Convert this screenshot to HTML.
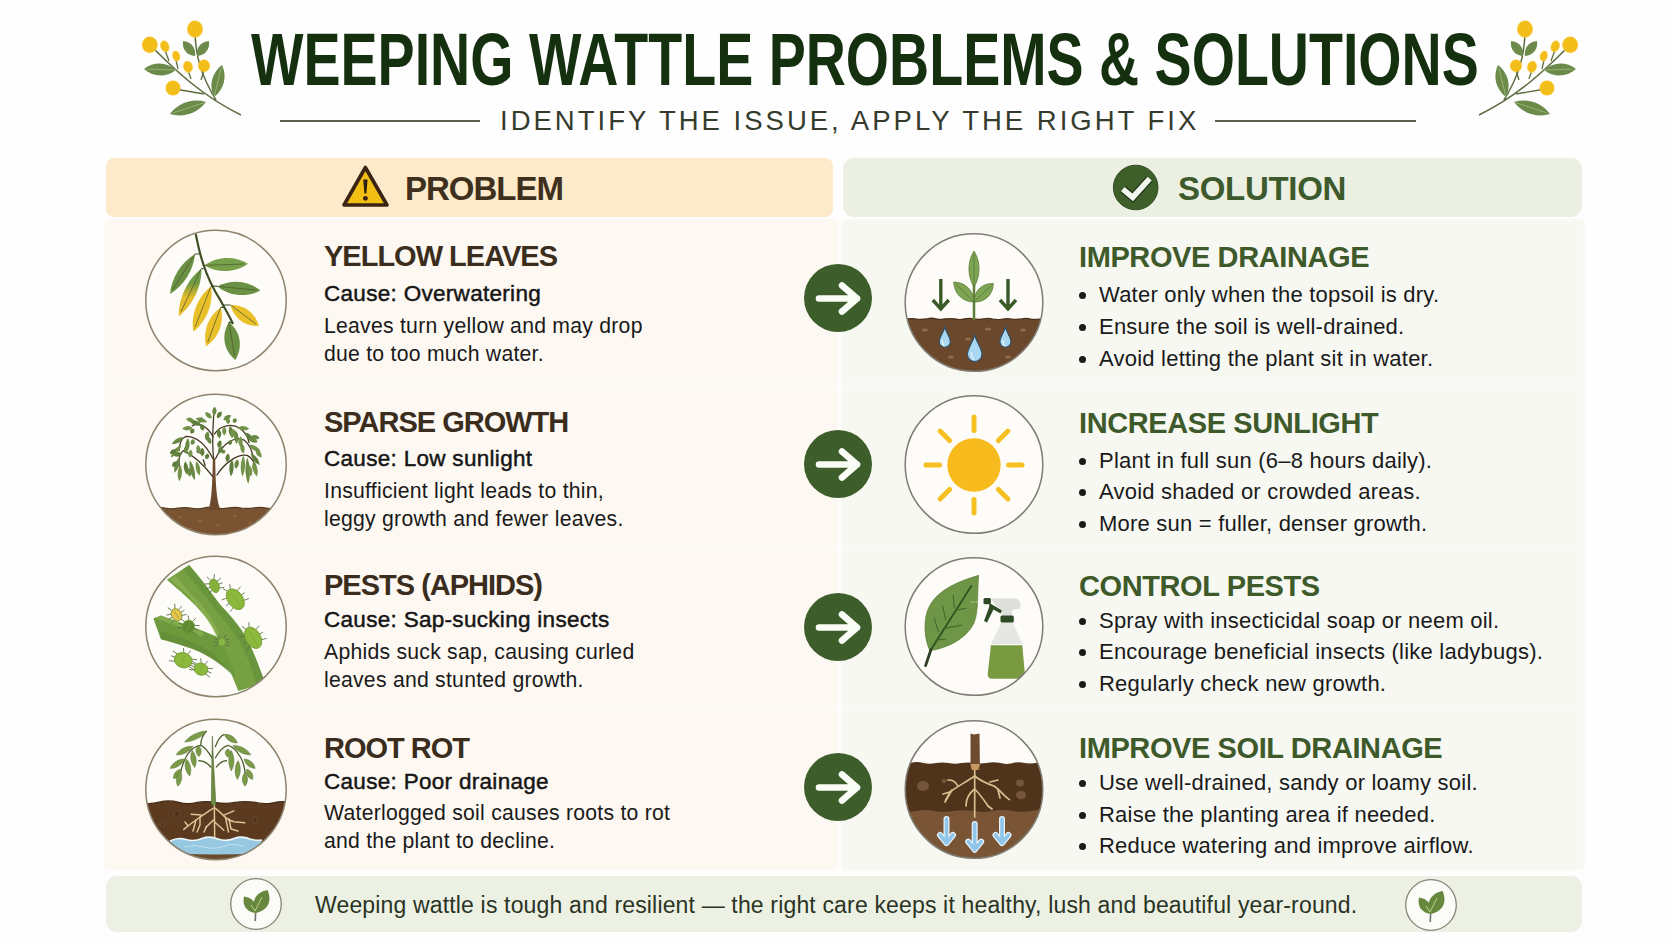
<!DOCTYPE html>
<html><head><meta charset="utf-8"><style>
html,body{margin:0;padding:0;}
body{width:1672px;height:941px;position:relative;overflow:hidden;background:#fefefe;font-family:"Liberation Sans",sans-serif;}
.a{position:absolute;white-space:nowrap;line-height:1;}
.bx{position:absolute;overflow:visible;}
.title{left:251px;top:23px;font-size:74px;font-weight:bold;color:#15300f;transform-origin:0 0;transform:scaleX(0.751);}
.sub{left:500px;top:106.5px;font-size:27.5px;color:#363c2d;letter-spacing:3.0px;}
.hl{position:absolute;height:2px;background:#5b5f50;top:120px;}
.band{position:absolute;top:158px;height:59px;border-radius:11px;}
.hdr{font-size:33px;font-weight:bold;top:172px;}
.row{position:absolute;}
.pr{left:106px;width:730px;background:#fdf8f1;box-shadow:0 0 3px 1px #fdf8f1;}
.sr{left:843px;width:740px;background:#f7f8f2;box-shadow:0 0 3px 1px #f7f8f2;}
.pt{font-size:29px;font-weight:bold;color:#3a2d1d;letter-spacing:-1px;}
.st{font-size:29px;font-weight:bold;color:#3e5a2b;letter-spacing:-0.4px;}
.cause{font-size:22.5px;color:#151515;letter-spacing:0.3px;-webkit-text-stroke:0.45px #151515;}
.desc{font-size:21.2px;color:#1a1a1a;letter-spacing:0.25px;}
.bul{font-size:22px;color:#1a1a1a;letter-spacing:0.22px;}
.dot{position:absolute;width:7.4px;height:7.4px;border-radius:50%;background:#1a1a1a;}
</style></head><body>
<svg class="bx" style="left:130px;top:10px" width="120" height="120" viewBox="0 0 120 120"><path d="M22,37 C45,60 72,86 111,105" stroke="#5d6d40" stroke-width="1.6" fill="none"/><path d="M65,24 C66,45 70,64 86,90" stroke="#5d6d40" stroke-width="1.5" fill="none"/><path d="M35,40 L39,51" stroke="#5d6d40" stroke-width="1.3"/><path d="M46,50 L48,59" stroke="#5d6d40" stroke-width="1.3"/><path d="M58,60 L61,69" stroke="#5d6d40" stroke-width="1.3"/><path d="M74,60 L71,70" stroke="#5d6d40" stroke-width="1.3"/><path d="M45,79 L74,84" stroke="#5d6d40" stroke-width="1.3"/><path d="M46,60 C36.7,51.7 23.9,51.3 14,59 C23.3,67.3 36.1,67.7 46,60Z" fill="#6c8b4b"/><path d="M46,60 L17.2,59.1" stroke="#a9c27f" stroke-width="0.7" fill="none"/><path d="M65,46 C66.1,37.7 61.3,31.7 53,31 C51.9,39.3 56.7,45.3 65,46Z" fill="#6c8b4b"/><path d="M67,46 C75.3,45.3 80.1,39.3 79,31 C70.7,31.7 65.9,37.7 67,46Z" fill="#6c8b4b"/><path d="M84,87 C94.2,79.3 97.4,66.5 92,55 C81.8,62.7 78.6,75.5 84,87Z" fill="#6c8b4b"/><path d="M84,87 L91.2,58.2" stroke="#a9c27f" stroke-width="0.7" fill="none"/><path d="M76,92 C62.7,88 48.3,92.8 40,104 C53.3,108 67.7,103.2 76,92Z" fill="#6c8b4b"/><path d="M76,92 L43.6,102.8" stroke="#a9c27f" stroke-width="0.7" fill="none"/><ellipse cx="65" cy="19.1" rx="7.7" ry="8.3" fill="#f4be1a" stroke="#f7cc3a" stroke-width="0.8" stroke-dasharray="1 0.8" transform="rotate(0 65 19.1)"/><ellipse cx="19.8" cy="34.8" rx="7.7" ry="8" fill="#f4be1a" stroke="#f7cc3a" stroke-width="0.8" stroke-dasharray="1 0.8" transform="rotate(0 19.8 34.8)"/><ellipse cx="34.8" cy="36.3" rx="4.1" ry="5.7" fill="#f4be1a" stroke="#f7cc3a" stroke-width="0.8" stroke-dasharray="1 0.8" transform="rotate(-20 34.8 36.3)"/><ellipse cx="46.2" cy="46" rx="3.6" ry="5.1" fill="#f4be1a" stroke="#f7cc3a" stroke-width="0.8" stroke-dasharray="1 0.8" transform="rotate(-15 46.2 46)"/><ellipse cx="58" cy="56.8" rx="4.5" ry="5.7" fill="#f4be1a" stroke="#f7cc3a" stroke-width="0.8" stroke-dasharray="1 0.8" transform="rotate(-15 58 56.8)"/><ellipse cx="74" cy="55.8" rx="5.8" ry="6.1" fill="#f4be1a" stroke="#f7cc3a" stroke-width="0.8" stroke-dasharray="1 0.8" transform="rotate(0 74 55.8)"/><ellipse cx="43" cy="78" rx="7.3" ry="7.3" fill="#f4be1a" stroke="#f7cc3a" stroke-width="0.8" stroke-dasharray="1 0.8" transform="rotate(0 43 78)"/></svg>
<svg class="bx" style="left:1470px;top:10px" width="120" height="120" viewBox="0 0 120 120"><g transform="translate(120,0) scale(-1,1)"><path d="M22,37 C45,60 72,86 111,105" stroke="#5d6d40" stroke-width="1.6" fill="none"/><path d="M65,24 C66,45 70,64 86,90" stroke="#5d6d40" stroke-width="1.5" fill="none"/><path d="M35,40 L39,51" stroke="#5d6d40" stroke-width="1.3"/><path d="M46,50 L48,59" stroke="#5d6d40" stroke-width="1.3"/><path d="M58,60 L61,69" stroke="#5d6d40" stroke-width="1.3"/><path d="M74,60 L71,70" stroke="#5d6d40" stroke-width="1.3"/><path d="M45,79 L74,84" stroke="#5d6d40" stroke-width="1.3"/><path d="M46,60 C36.7,51.7 23.9,51.3 14,59 C23.3,67.3 36.1,67.7 46,60Z" fill="#6c8b4b"/><path d="M46,60 L17.2,59.1" stroke="#a9c27f" stroke-width="0.7" fill="none"/><path d="M65,46 C66.1,37.7 61.3,31.7 53,31 C51.9,39.3 56.7,45.3 65,46Z" fill="#6c8b4b"/><path d="M67,46 C75.3,45.3 80.1,39.3 79,31 C70.7,31.7 65.9,37.7 67,46Z" fill="#6c8b4b"/><path d="M84,87 C94.2,79.3 97.4,66.5 92,55 C81.8,62.7 78.6,75.5 84,87Z" fill="#6c8b4b"/><path d="M84,87 L91.2,58.2" stroke="#a9c27f" stroke-width="0.7" fill="none"/><path d="M76,92 C62.7,88 48.3,92.8 40,104 C53.3,108 67.7,103.2 76,92Z" fill="#6c8b4b"/><path d="M76,92 L43.6,102.8" stroke="#a9c27f" stroke-width="0.7" fill="none"/><ellipse cx="65" cy="19.1" rx="7.7" ry="8.3" fill="#f4be1a" stroke="#f7cc3a" stroke-width="0.8" stroke-dasharray="1 0.8" transform="rotate(0 65 19.1)"/><ellipse cx="19.8" cy="34.8" rx="7.7" ry="8" fill="#f4be1a" stroke="#f7cc3a" stroke-width="0.8" stroke-dasharray="1 0.8" transform="rotate(0 19.8 34.8)"/><ellipse cx="34.8" cy="36.3" rx="4.1" ry="5.7" fill="#f4be1a" stroke="#f7cc3a" stroke-width="0.8" stroke-dasharray="1 0.8" transform="rotate(-20 34.8 36.3)"/><ellipse cx="46.2" cy="46" rx="3.6" ry="5.1" fill="#f4be1a" stroke="#f7cc3a" stroke-width="0.8" stroke-dasharray="1 0.8" transform="rotate(-15 46.2 46)"/><ellipse cx="58" cy="56.8" rx="4.5" ry="5.7" fill="#f4be1a" stroke="#f7cc3a" stroke-width="0.8" stroke-dasharray="1 0.8" transform="rotate(-15 58 56.8)"/><ellipse cx="74" cy="55.8" rx="5.8" ry="6.1" fill="#f4be1a" stroke="#f7cc3a" stroke-width="0.8" stroke-dasharray="1 0.8" transform="rotate(0 74 55.8)"/><ellipse cx="43" cy="78" rx="7.3" ry="7.3" fill="#f4be1a" stroke="#f7cc3a" stroke-width="0.8" stroke-dasharray="1 0.8" transform="rotate(0 43 78)"/></g></svg>
<div class="a title">WEEPING WATTLE PROBLEMS &amp; SOLUTIONS</div>
<div class="hl" style="left:280px;width:200px"></div><div class="hl" style="left:1215px;width:201px"></div>
<div class="a sub">IDENTIFY THE ISSUE, APPLY THE RIGHT FIX</div>
<div class="band" style="left:106px;width:727px;background:#fceaca;border-radius:8px"></div>
<div class="band" style="left:843px;width:739px;background:#ecf0e3"></div>
<svg class="bx" style="left:330px;top:160px" width="70" height="55" viewBox="0 0 70 55"><path d="M35.4,7.5 L57,45 L14,45 Z" fill="#f2c014" stroke="#3b2413" stroke-width="3.6" stroke-linejoin="round"/><path d="M33.2,19.5 L37.6,19.5 L36.4,33.5 L34.4,33.5Z" fill="#2d2010"/><circle cx="35.4" cy="38.3" r="2.4" fill="#3b1f10"/></svg>
<div class="a hdr" style="left:405px;color:#3f301e;letter-spacing:-1px">PROBLEM</div>
<svg class="bx" style="left:1100px;top:160px" width="70" height="55" viewBox="0 0 70 55"><circle cx="35.7" cy="27.5" r="22.3" fill="#3f5f2a" stroke="#2f4a20" stroke-width="1"/><path d="M22.8,29.2 L32.7,37.4 L49.7,18.7" stroke="#1f3317" stroke-width="8" fill="none"/><path d="M22.8,29.2 L32.7,37.4 L49.7,18.7" stroke="#f2f8f0" stroke-width="5.6" fill="none"/></svg>
<div class="a hdr" style="left:1178px;color:#3d5a2c;letter-spacing:-0.3px">SOLUTION</div>
<div class="row" style="left:104px;top:219px;width:734px;height:651px;background:#fdfaf6;border-radius:6px"></div>
<div class="row" style="left:842px;top:219px;width:743px;height:651px;background:#f9faf6;border-radius:6px"></div>
<div class="row pr" style="top:221px;height:162px"></div><div class="row sr" style="top:221px;height:162px"></div>
<div class="row pr" style="top:390px;height:155px"></div><div class="row sr" style="top:390px;height:155px"></div>
<div class="row pr" style="top:551px;height:155px"></div><div class="row sr" style="top:551px;height:155px"></div>
<div class="row pr" style="top:712px;height:156px"></div><div class="row sr" style="top:712px;height:156px"></div>
<div class="band" style="left:106px;width:1476px;top:876px;height:56px;border-radius:10px;background:#edf1e4"></div>
<svg class="bx" style="left:140px;top:225px" width="152" height="152" viewBox="0 0 152 152"><defs><clipPath id="cpp0"><circle cx="76" cy="75.5" r="70.2"/></clipPath></defs><circle cx="76" cy="75.5" r="70.2" fill="#fdfcf8"/><g clip-path="url(#cpp0)"><defs><linearGradient id="gy" x1="0" y1="0" x2="0" y2="1"><stop offset="0.3" stop-color="#6f9a45"/><stop offset="0.6" stop-color="#e3bb2c"/></linearGradient></defs><path d="M55.7,8.9 C58,20 60,30 63,38 C66,48 72,62 80.8,75.9 C85,84 89,90 93,99" stroke="#3e4f25" stroke-width="2.2" fill="none"/><path d="M59.5,29 L55,29" stroke="#3e4f25" stroke-width="1.2"/><path d="M55,29 C41.3,37.1 31.3,53.1 30,69 C43.7,60.9 53.7,44.9 55,29Z" fill="#6a9143"/><path d="M55,29 L32.5,65" stroke="#4a5528" stroke-width="0.7" fill="none"/><path d="M62.5,40 L64.6,40.4" stroke="#3e4f25" stroke-width="1.2"/><path d="M64.6,40.4 C77.9,48.6 95.3,47.9 108,38.8 C94.7,30.6 77.3,31.3 64.6,40.4Z" fill="#77a04b"/><path d="M64.6,40.4 L103.7,39" stroke="#4a5528" stroke-width="0.7" fill="none"/><path d="M63.5,43.6 L61.4,43.6" stroke="#3e4f25" stroke-width="1.2"/><path d="M61.4,43.6 C47.4,54.5 38.3,73.6 38.8,91.3 C52.8,80.4 61.9,61.3 61.4,43.6Z" fill="url(#gy)"/><path d="M61.4,43.6 L41.1,86.5" stroke="#4a5528" stroke-width="0.7" fill="none"/><path d="M73,61 L77.5,61.4" stroke="#3e4f25" stroke-width="1.2"/><path d="M77.5,61.4 C89.6,71.2 106.7,72.8 120.4,65.4 C108.3,55.6 91.2,54 77.5,61.4Z" fill="#6a9143"/><path d="M77.5,61.4 L116.1,65" stroke="#4a5528" stroke-width="0.7" fill="none"/><path d="M73,61.4 L71,61.4" stroke="#3e4f25" stroke-width="1.2"/><path d="M71,61.4 C57.6,71.8 50.5,89.9 53.3,106.6 C66.7,96.2 73.8,78.1 71,61.4Z" fill="#e9bf2a"/><path d="M71,61.4 L55.1,102.1" stroke="#4a5528" stroke-width="0.7" fill="none"/><path d="M83,80 L90.5,80" stroke="#3e4f25" stroke-width="1.2"/><path d="M90.5,80 C93.8,93.3 105.1,101.7 118.7,101 C115.4,87.7 104.1,79.3 90.5,80Z" fill="#e9bf2a"/><path d="M90.5,80 L115.9,98.9" stroke="#4a5528" stroke-width="0.7" fill="none"/><path d="M84,82.4 L80.8,82.4" stroke="#3e4f25" stroke-width="1.2"/><path d="M80.8,82.4 C68.3,91 62.5,106.5 66.2,121.2 C78.7,112.6 84.5,97.1 80.8,82.4Z" fill="#e9bf2a"/><path d="M80.8,82.4 L67.7,117.3" stroke="#4a5528" stroke-width="0.7" fill="none"/><path d="M92,98 L88.9,96.9" stroke="#3e4f25" stroke-width="1.2"/><path d="M88.9,96.9 C81,110 83.5,125.2 95.3,134.9 C103.2,121.8 100.7,106.6 88.9,96.9Z" fill="#6a9143"/><path d="M88.9,96.9 L94.7,131.1" stroke="#4a5528" stroke-width="0.7" fill="none"/></g><circle cx="76" cy="75.5" r="70.2" fill="none" stroke="#8d836f" stroke-width="1.5"/></svg>
<svg class="bx" style="left:898px;top:227px" width="152" height="152" viewBox="0 0 152 152"><defs><clipPath id="cps0"><circle cx="76" cy="75.5" r="68.8"/></clipPath></defs><circle cx="76" cy="75.5" r="68.8" fill="#fdfcf8"/><g clip-path="url(#cps0)"><path d="M0,92 Q4.8,93.1 9.5,92 Q14.2,91.2 19,92.1 Q23.8,92.7 28.5,92 Q33.2,90.6 38,91.8 Q42.8,93.1 47.5,92 Q52.2,91.3 57,92 Q61.8,93.2 66.5,92 Q71.2,90.8 76,91.9 Q80.8,92.9 85.5,91.9 Q90.2,90.9 95,92.2 Q99.8,93.1 104.5,92.1 Q109.2,91 114,92.1 Q118.8,92.8 123.5,91.9 Q128.2,90.8 133,92.1 Q137.8,93 142.5,91.9 Q147.2,91.1 152,91.9 L152,152 L0,152Z" fill="#6b482b"/><path d="M0,92 Q4.8,93.1 9.5,92 Q14.2,91.2 19,92.1 Q23.8,92.7 28.5,92 Q33.2,90.6 38,91.8 Q42.8,93.1 47.5,92 Q52.2,91.3 57,92 Q61.8,93.2 66.5,92 Q71.2,90.8 76,91.9 Q80.8,92.9 85.5,91.9 Q90.2,90.9 95,92.2 Q99.8,93.1 104.5,92.1 Q109.2,91 114,92.1 Q118.8,92.8 123.5,91.9 Q128.2,90.8 133,92.1 Q137.8,93 142.5,91.9 Q147.2,91.1 152,91.9" stroke="#4a321d" stroke-width="1.3" fill="none"/><ellipse cx="27" cy="103" rx="3" ry="1.6" fill="#8e6a4a"/><ellipse cx="53" cy="130" rx="3" ry="1.6" fill="#8e6a4a"/><ellipse cx="90" cy="102" rx="3" ry="1.6" fill="#8e6a4a"/><ellipse cx="125" cy="103" rx="3" ry="1.6" fill="#8e6a4a"/><ellipse cx="110" cy="130" rx="3" ry="1.6" fill="#8e6a4a"/><ellipse cx="70" cy="112" rx="3" ry="1.6" fill="#8e6a4a"/><path d="M76,93 L76,58" stroke="#5e7f3a" stroke-width="2.5"/><path d="M76,60 C82.7,49.2 82.7,34.8 76,24 C69.3,34.8 69.3,49.2 76,60Z" fill="#7ea553" stroke="#587a36" stroke-width="0.8"/><path d="M76,60 L76,27.6" stroke="#4e6e30" stroke-width="0.7" fill="none"/><path d="M76,75 C75.5,63.3 67.4,55.3 55.7,55 C56.2,66.7 64.3,74.7 76,75Z" fill="#7ea553" stroke="#587a36" stroke-width="0.8"/><path d="M76,75 L57.7,57" stroke="#4e6e30" stroke-width="0.7" fill="none"/><path d="M76,75 C87.3,75.2 95,67.8 95.3,56.5 C84,56.3 76.3,63.7 76,75Z" fill="#7ea553" stroke="#587a36" stroke-width="0.8"/><path d="M76,75 L93.4,58.3" stroke="#4e6e30" stroke-width="0.7" fill="none"/><path d="M42.8,52 L42.8,81 M34.8,73 L42.8,82 L50.8,73" stroke="#3a5a28" stroke-width="3.4" fill="none" stroke-linejoin="miter"/><path d="M110,52 L110,81 M102,73 L110,82 L118,73" stroke="#3a5a28" stroke-width="3.4" fill="none" stroke-linejoin="miter"/><path d="M46.8,100 C48.449999999999996,106.3 52.3,110.5 52.3,114.7 A5.5,5.5 0 0 1 41.3,114.7 C41.3,110.5 45.15,106.3 46.8,100Z" fill="#a9d6f0" stroke="#2e4e66" stroke-width="1.1"/><path d="M44.379999999999995,113.02 Q44.05,117.22 46.25,118.9" stroke="#e8f6fc" stroke-width="1.2" fill="none"/><path d="M76.7,108 C78.875,116.25 83.95,121.75 83.95,127.25 A7.25,7.25 0 0 1 69.45,127.25 C69.45,121.75 74.525,116.25 76.7,108Z" fill="#a9d6f0" stroke="#2e4e66" stroke-width="1.1"/><path d="M73.51,125.05 Q73.075,130.55 75.97500000000001,132.75" stroke="#e8f6fc" stroke-width="1.2" fill="none"/><path d="M107.4,100 C109.05000000000001,106.3 112.9,110.5 112.9,114.7 A5.5,5.5 0 0 1 101.9,114.7 C101.9,110.5 105.75,106.3 107.4,100Z" fill="#a9d6f0" stroke="#2e4e66" stroke-width="1.1"/><path d="M104.98,113.02 Q104.65,117.22 106.85000000000001,118.9" stroke="#e8f6fc" stroke-width="1.2" fill="none"/></g><circle cx="76" cy="75.5" r="68.8" fill="none" stroke="#7f7d72" stroke-width="1.5"/></svg>
<svg class="bx" style="left:800px;top:260px" width="76" height="76" viewBox="0 0 76 76"><circle cx="38" cy="38" r="34" fill="#3d5d2a"/><path d="M19,38.5 L57,38.5 M42,25.5 L57,38.5 L42,51.5" stroke="#fafdf5" stroke-width="6.6" fill="none" stroke-linecap="round" stroke-linejoin="round"/></svg>
<svg class="bx" style="left:140px;top:389px" width="152" height="152" viewBox="0 0 152 152"><defs><clipPath id="cpp1"><circle cx="76" cy="75.5" r="70.2"/></clipPath></defs><circle cx="76" cy="75.5" r="70.2" fill="#fdfcf8"/><g clip-path="url(#cpp1)"><path d="M0,119 Q6.3,120.4 12.7,119.1 Q19,117.5 25.3,119.2 Q31.7,120.5 38,119.2 Q44.3,118.1 50.7,119 Q57,120.6 63.3,119.1 Q69.7,117.4 76,118.8 Q82.3,120.2 88.7,118.9 Q95,117.7 101.3,119 Q107.7,119.9 114,118.9 Q120.3,117.9 126.7,119.2 Q133,120.5 139.3,118.9 Q145.7,117.5 152,118.8 L152,152 L0,152Z" fill="#7a5332"/><path d="M0,119 Q6.3,120.4 12.7,119.1 Q19,117.5 25.3,119.2 Q31.7,120.5 38,119.2 Q44.3,118.1 50.7,119 Q57,120.6 63.3,119.1 Q69.7,117.4 76,118.8 Q82.3,120.2 88.7,118.9 Q95,117.7 101.3,119 Q107.7,119.9 114,118.9 Q120.3,117.9 126.7,119.2 Q133,120.5 139.3,118.9 Q145.7,117.5 152,118.8" stroke="#5a3b22" stroke-width="1.2" fill="none"/><ellipse cx="40" cy="128" rx="2" ry="1" fill="#8e6742"/><ellipse cx="60" cy="132" rx="2" ry="1" fill="#8e6742"/><ellipse cx="95" cy="127" rx="2" ry="1" fill="#8e6742"/><ellipse cx="110" cy="134" rx="2" ry="1" fill="#8e6742"/><ellipse cx="78" cy="136" rx="2" ry="1" fill="#8e6742"/><ellipse cx="50" cy="140" rx="2" ry="1" fill="#8e6742"/><path d="M68.5,121 C71.5,112 72.5,95 72.8,70 L75.2,70 C75.5,95 76.5,112 80.5,121 Z" fill="#6d4a2c"/><path d="M 73.8,70.3 C 71.8,56.9 72.8,39.7 73.8,25.3" stroke="#463a25" stroke-width="1.3" fill="none"/><path d="M 72.8,87.5 C 65.2,77.9 53.7,66.4 43.2,61.7 C 39.3,64.5 38.4,70.3 39.3,77.9" stroke="#463a25" stroke-width="1.3" fill="none"/><path d="M 73.3,70.3 C 66.1,55.9 56.5,47.3 46,47.3 C 41.3,49.2 39.3,55 39.3,61.7" stroke="#463a25" stroke-width="1.3" fill="none"/><path d="M 73.3,48.3 C 68,37.8 59.4,33 51.8,36.8" stroke="#463a25" stroke-width="1.3" fill="none"/><path d="M 74.2,45.4 C 80.4,35.9 91.9,33.9 100.5,39.7 C 105.3,43.5 108.2,48.3 109.1,54" stroke="#463a25" stroke-width="1.3" fill="none"/><path d="M 75.2,70.3 C 82.4,55 93.8,46.4 104.3,51.2 C 109.1,55 112,60.7 113,68.4" stroke="#463a25" stroke-width="1.3" fill="none"/><path d="M 76.6,86.5 C 84.3,74.1 97.7,64.5 107.2,66.4 C 113,69.3 115.8,76 116.8,82.7" stroke="#463a25" stroke-width="1.3" fill="none"/><path d="M 65.2,77 L 63.2,70.3" stroke="#463a25" stroke-width="1.3" fill="none"/><path d="M 61.3,64.5 L 56.5,62.6" stroke="#463a25" stroke-width="1.3" fill="none"/><path d="M74.2,26.3 C77.2,23.9 77.4,20.4 74.7,17.7 C71.7,20.1 71.5,23.6 74.2,26.3Z" fill="#6a8944"/><path d="M71.8,29.2 C71.7,25.3 69,23 65.2,23.4 C65.3,27.3 68,29.6 71.8,29.2Z" fill="#75944b"/><path d="M77.1,29.2 C80.8,28.7 82.5,26 81.4,22.5 C77.7,22.9 76,25.6 77.1,29.2Z" fill="#5f7e3d"/><path d="M83.3,31.1 C87.1,32.1 90.2,30.2 91,26.3 C87.2,25.3 84.1,27.2 83.3,31.1Z" fill="#6a8944"/><path d="M67.1,33 C64.5,29.1 59.9,27.6 55.6,29.2 C58.1,33 62.7,34.6 67.1,33Z" fill="#75944b"/><path d="M61.3,35.9 C58.5,31.9 53.6,30.1 48.9,31.6 C51.7,35.6 56.7,37.3 61.3,35.9Z" fill="#5f7e3d"/><path d="M93.8,33.9 C97.1,33.6 97.8,31.7 95.7,29.2 C92.5,29.5 91.7,31.4 93.8,33.9Z" fill="#6a8944"/><path d="M52.7,38.7 C49.3,36.2 45.1,36.5 42.2,39.7 C45.6,42.3 49.8,41.9 52.7,38.7Z" fill="#75944b"/><path d="M53.7,39.7 C50.4,39.6 49.2,41.6 50.8,44.5 C54.1,44.5 55.3,42.6 53.7,39.7Z" fill="#5f7e3d"/><path d="M44.1,48.3 C39,47.8 34.1,50.4 31.7,55 C36.8,55.5 41.8,52.8 44.1,48.3Z" fill="#6a8944"/><path d="M41.3,55.9 C35.9,57.8 31.7,62.8 30.7,68.4 C36.1,66.5 40.3,61.5 41.3,55.9Z" fill="#75944b"/><path d="M42.2,64.5 C39,62.3 35.6,63.1 33.6,66.4 C36.8,68.7 40.2,67.9 42.2,64.5Z" fill="#5f7e3d"/><path d="M39.3,68.4 C35.2,72.1 33.3,78.2 34.6,83.7 C38.7,79.9 40.6,73.8 39.3,68.4Z" fill="#6a8944"/><path d="M40.3,76 C37.1,80.7 36.8,87.2 39.3,92.3 C42.5,87.6 42.9,81.1 40.3,76Z" fill="#75944b"/><path d="M45.1,72.2 C42.8,76.6 43.6,82 47,85.6 C49.3,81.1 48.5,75.8 45.1,72.2Z" fill="#5f7e3d"/><path d="M49.9,71.2 C48.5,77.9 50.4,85.9 54.6,91.3 C56,84.6 54.1,76.6 49.9,71.2Z" fill="#6a8944"/><path d="M56.5,72.2 C54.6,77.1 55.7,82.8 59.4,86.5 C61.4,81.7 60.2,75.9 56.5,72.2Z" fill="#75944b"/><path d="M63.2,41.6 C65.4,38.8 64.7,36.1 61.3,34.9 C59.1,37.7 59.9,40.4 63.2,41.6Z" fill="#5f7e3d"/><path d="M47.9,49.2 C44.8,53.1 44.4,58.4 47,62.6 C50.1,58.8 50.5,53.5 47.9,49.2Z" fill="#6a8944"/><path d="M57.5,55.9 C55.3,59.1 56,62.6 59.4,64.5 C61.6,61.3 60.9,57.9 57.5,55.9Z" fill="#75944b"/><path d="M62.3,58.8 C59.4,61.4 59.4,64.8 62.3,67.4 C65.2,64.8 65.2,61.4 62.3,58.8Z" fill="#5f7e3d"/><path d="M53.7,50.2 C50.4,51 49.6,53.3 51.8,55.9 C55.1,55.1 55.8,52.8 53.7,50.2Z" fill="#6a8944"/><path d="M97.7,38.7 C100.9,41.9 105.5,42.3 109.1,39.7 C105.9,36.5 101.3,36.2 97.7,38.7Z" fill="#75944b"/><path d="M105.3,43.5 C105.5,48 108.5,51.4 113,52.1 C112.8,47.6 109.7,44.2 105.3,43.5Z" fill="#5f7e3d"/><path d="M108.2,49.2 C110,53.1 113.8,54.6 117.7,53.1 C115.9,49.3 112.1,47.7 108.2,49.2Z" fill="#6a8944"/><path d="M109.1,55.9 C111.1,60.4 115.7,63.1 120.6,62.6 C118.6,58.1 114,55.5 109.1,55.9Z" fill="#75944b"/><path d="M111,64.5 C111.3,69.7 114.8,74.3 119.6,76 C119.4,70.8 115.9,66.3 111,64.5Z" fill="#5f7e3d"/><path d="M113.9,72.2 C111.3,75.9 111.7,80.5 114.9,83.7 C117.4,80 117.1,75.4 113.9,72.2Z" fill="#6a8944"/><path d="M84.3,37.8 C81.4,40.3 81.4,43.8 84.3,46.4 C87.1,43.8 87.1,40.3 84.3,37.8Z" fill="#75944b"/><path d="M90,36.8 C87.8,40.7 88.5,45.3 91.9,48.3 C94.2,44.4 93.4,39.8 90,36.8Z" fill="#5f7e3d"/><path d="M95.7,41.6 C93.2,45.8 93.6,51.2 96.7,55 C99.3,50.8 98.9,45.4 95.7,41.6Z" fill="#6a8944"/><path d="M100.5,47.3 C97.7,50.5 97.7,54.7 100.5,57.8 C103.4,54.7 103.4,50.5 100.5,47.3Z" fill="#75944b"/><path d="M90,51.2 C87.1,52.6 87.1,54.5 90,55.9 C92.9,54.5 92.9,52.6 90,51.2Z" fill="#5f7e3d"/><path d="M107.2,68.4 C104.6,76.5 105,87.2 108.2,95.1 C110.8,87 110.4,76.3 107.2,68.4Z" fill="#6a8944"/><path d="M103.4,66.4 C100.2,72.6 99.9,81 102.4,87.5 C105.6,81.3 106,72.9 103.4,66.4Z" fill="#75944b"/><path d="M91.9,70.3 C88.8,75.3 88.4,82.2 91,87.5 C94.1,82.5 94.5,75.6 91.9,70.3Z" fill="#5f7e3d"/><path d="M97.7,70.3 C94.3,72.6 93.5,76.4 95.7,79.8 C99.1,77.5 99.9,73.7 97.7,70.3Z" fill="#6a8944"/><path d="M113.9,74.1 C112,78.7 113.1,84.1 116.8,87.5 C118.7,82.9 117.6,77.5 113.9,74.1Z" fill="#75944b"/><path d="M68,64.5 C64.7,65.4 64,67.6 66.1,70.3 C69.4,69.5 70.2,67.2 68,64.5Z" fill="#5f7e3d"/><path d="M82.4,60.7 C80.4,63.1 81.1,64.7 84.3,64.5 C86.3,62.1 85.5,60.6 82.4,60.7Z" fill="#6a8944"/><path d="M46,30.1 C48,33.3 51,33.6 53.7,31.1 C51.7,27.9 48.7,27.6 46,30.1Z" fill="#75944b"/><path d="M78.5,39.7 C76,42.8 76.4,46.7 79.5,49.2 C82.1,46.1 81.7,42.3 78.5,39.7Z" fill="#5f7e3d"/><path d="M68,42.5 C64.6,44.5 63.9,47.9 66.1,51.2 C69.5,49.2 70.2,45.8 68,42.5Z" fill="#6a8944"/><path d="M50.8,60.7 C47.7,62.7 47.3,65.7 49.9,68.4 C53,66.4 53.4,63.4 50.8,60.7Z" fill="#75944b"/><path d="M36.5,60.7 C33,59.4 30.4,60.9 29.8,64.5 C33.2,65.9 35.9,64.4 36.5,60.7Z" fill="#5f7e3d"/><path d="M47,55.9 C43.6,57.9 42.9,61.3 45.1,64.5 C48.4,62.6 49.2,59.1 47,55.9Z" fill="#6a8944"/><path d="M101.5,54 C99.2,57.7 100,61.9 103.4,64.5 C105.6,60.9 104.9,56.7 101.5,54Z" fill="#75944b"/><path d="M88.1,64.5 C85,66.8 84.6,70.2 87.1,73.1 C90.3,70.9 90.7,67.4 88.1,64.5Z" fill="#5f7e3d"/><path d="M111,47.3 C113,50.7 116.4,51.5 119.6,49.2 C117.7,45.9 114.2,45.1 111,47.3Z" fill="#6a8944"/><path d="M115.8,60.7 C115.2,64.7 117.5,67.8 121.6,68.4 C122.1,64.3 119.8,61.3 115.8,60.7Z" fill="#75944b"/><path d="M36.5,72.2 C32.9,72.3 31.4,74.6 32.6,77.9 C36.2,77.8 37.7,75.5 36.5,72.2Z" fill="#5f7e3d"/><path d="M58.5,33.9 C62,33.8 63.5,31.5 62.3,28.2 C58.8,28.3 57.2,30.6 58.5,33.9Z" fill="#6a8944"/><path d="M88.1,34.9 C91,33.2 91,30.9 88.1,29.2 C85.2,30.9 85.2,33.2 88.1,34.9Z" fill="#75944b"/><path d="M78.5,64.5 C82.2,63.5 83.8,60.5 82.4,56.9 C78.6,57.9 77.1,61 78.5,64.5Z" fill="#5f7e3d"/><path d="M70.9,55 C72.3,51.4 70.8,48.3 67.1,47.3 C65.6,50.9 67.2,54 70.9,55Z" fill="#6a8944"/><path d="M91.9,49.2 C95.3,46.9 96.1,43.1 93.8,39.7 C90.4,42 89.7,45.8 91.9,49.2Z" fill="#75944b"/><path d="M80.4,51.2 C77.1,52.8 76.3,55.8 78.5,58.8 C81.9,57.2 82.7,54.1 80.4,51.2Z" fill="#5f7e3d"/><path d="M48.9,78.9 C46.3,81.8 46.7,85.2 49.9,87.5 C52.4,84.6 52,81.1 48.9,78.9Z" fill="#6a8944"/><path d="M109.1,76 C106.9,79.9 107.6,84.5 111,87.5 C113.3,83.6 112.5,79 109.1,76Z" fill="#75944b"/></g><circle cx="76" cy="75.5" r="70.2" fill="none" stroke="#8d836f" stroke-width="1.5"/></svg>
<svg class="bx" style="left:898px;top:389px" width="152" height="152" viewBox="0 0 152 152"><defs><clipPath id="cps1"><circle cx="76" cy="75.5" r="68.8"/></clipPath></defs><circle cx="76" cy="75.5" r="68.8" fill="#fdfcf8"/><g clip-path="url(#cps1)"><circle cx="76" cy="76" r="26.7" fill="#f7bb1e"/><path d="M110.5,76 L124,76" stroke="#f6c023" stroke-width="5" stroke-linecap="round"/><path d="M100.4,100.4 L109.9,109.9" stroke="#f6c023" stroke-width="5" stroke-linecap="round"/><path d="M76,110.5 L76,124" stroke="#f6c023" stroke-width="5" stroke-linecap="round"/><path d="M51.6,100.4 L42.1,109.9" stroke="#f6c023" stroke-width="5" stroke-linecap="round"/><path d="M41.5,76 L28,76" stroke="#f6c023" stroke-width="5" stroke-linecap="round"/><path d="M51.6,51.6 L42.1,42.1" stroke="#f6c023" stroke-width="5" stroke-linecap="round"/><path d="M76,41.5 L76,28" stroke="#f6c023" stroke-width="5" stroke-linecap="round"/><path d="M100.4,51.6 L109.9,42.1" stroke="#f6c023" stroke-width="5" stroke-linecap="round"/></g><circle cx="76" cy="75.5" r="68.8" fill="none" stroke="#7f7d72" stroke-width="1.5"/></svg>
<svg class="bx" style="left:800px;top:426px" width="76" height="76" viewBox="0 0 76 76"><circle cx="38" cy="38" r="34" fill="#3d5d2a"/><path d="M19,38.5 L57,38.5 M42,25.5 L57,38.5 L42,51.5" stroke="#fafdf5" stroke-width="6.6" fill="none" stroke-linecap="round" stroke-linejoin="round"/></svg>
<svg class="bx" style="left:140px;top:551px" width="152" height="152" viewBox="0 0 152 152"><defs><clipPath id="cpp2"><circle cx="76" cy="75.5" r="70.2"/></clipPath></defs><circle cx="76" cy="75.5" r="70.2" fill="#fdfcf8"/><g clip-path="url(#cpp2)"><path d="M26.8,28.8 C40,40 48,47 55.1,54.1 C64,64 71,72 75.9,82.4 C82,94 86,106 89.3,118.1 L98.3,140 L125,132 C118,112 113,100 107.2,88.3 C99,74 90,64 80.4,54.1 C70,40 60,26 49.2,13.9 Z" fill="#77a043"/><path d="M49.2,13.9 C60,26 70,40 80.4,54.1 C90,64 99,74 107.2,88.3 C113,100 118,112 125,132 L117,135 C111,114 105,100 99,90 C90,76 80,64 72,54 C62,40 52,28 43,18Z" fill="#5f8c36" opacity="0.55"/><path d="M30,28 C44,40 52,48 58,56 C66,66 72,76 76,86 L80,84 C75,72 68,62 60,52 C52,44 44,36 36,25Z" fill="#98bf5e" opacity="0.45"/><path d="M13.4,67.5 L20.9,64.5 C35,70 55,76 82,88 L96,126 C78,110 62,101 50.6,97.3 C38,93 28,90 20.9,88.3 Z" fill="#6e9a3e"/><path d="M20,80 C34,84 52,90 66,98 C74,103 82,110 90,120 L92,124 C78,110 62,101 50.6,97.3 C38,93 28,90 20.9,88.3Z" fill="#5a8534" opacity="0.45"/><path d="M16,68 C30,72 48,78 62,86 L64,82 C50,74 32,68 20,65Z" fill="#93bb5a" opacity="0.5"/><g transform="translate(74.5,34.8) rotate(-20)"><path d="M-3.6,-3.5 L-8.5,-5" stroke="#5b6f45" stroke-width="0.8"/><path d="M-3.6,0 L-8.5,0" stroke="#5b6f45" stroke-width="0.8"/><path d="M-3.6,3.5 L-8.5,5" stroke="#5b6f45" stroke-width="0.8"/><path d="M3.6,-3.5 L8.5,-5" stroke="#5b6f45" stroke-width="0.8"/><path d="M3.6,0 L8.5,0" stroke="#5b6f45" stroke-width="0.8"/><path d="M3.6,3.5 L8.5,5" stroke="#5b6f45" stroke-width="0.8"/><path d="M-2,-7 L-4,-11 M2,-7 L4,-11" stroke="#5b6f45" stroke-width="0.8"/><ellipse cx="0" cy="0" rx="4.5" ry="7" fill="#86b23c" stroke="#6e9a2f" stroke-width="0.8"/><path d="M0,-4.2 L0,5.6000000000000005" stroke="#7aa532" stroke-width="0.6"/></g><g transform="translate(95.3,48.2) rotate(-35)"><path d="M-6.0,-5.8 L-11.5,-7.2" stroke="#5b6f45" stroke-width="0.8"/><path d="M-6.0,0 L-11.5,0" stroke="#5b6f45" stroke-width="0.8"/><path d="M-6.0,5.8 L-11.5,7.2" stroke="#5b6f45" stroke-width="0.8"/><path d="M6.0,-5.8 L11.5,-7.2" stroke="#5b6f45" stroke-width="0.8"/><path d="M6.0,0 L11.5,0" stroke="#5b6f45" stroke-width="0.8"/><path d="M6.0,5.8 L11.5,7.2" stroke="#5b6f45" stroke-width="0.8"/><path d="M-2,-11.5 L-4,-15.5 M2,-11.5 L4,-15.5" stroke="#5b6f45" stroke-width="0.8"/><ellipse cx="0" cy="0" rx="7.5" ry="11.5" fill="#8bb83d" stroke="#6e9a2f" stroke-width="0.8"/><path d="M0,-6.8999999999999995 L0,9.200000000000001" stroke="#7aa532" stroke-width="0.6"/></g><g transform="translate(113.1,86.8) rotate(-30)"><path d="M-6.0,-5.8 L-11.5,-7.2" stroke="#5b6f45" stroke-width="0.8"/><path d="M-6.0,0 L-11.5,0" stroke="#5b6f45" stroke-width="0.8"/><path d="M-6.0,5.8 L-11.5,7.2" stroke="#5b6f45" stroke-width="0.8"/><path d="M6.0,-5.8 L11.5,-7.2" stroke="#5b6f45" stroke-width="0.8"/><path d="M6.0,0 L11.5,0" stroke="#5b6f45" stroke-width="0.8"/><path d="M6.0,5.8 L11.5,7.2" stroke="#5b6f45" stroke-width="0.8"/><path d="M-2,-11.5 L-4,-15.5 M2,-11.5 L4,-15.5" stroke="#5b6f45" stroke-width="0.8"/><ellipse cx="0" cy="0" rx="7.5" ry="11.5" fill="#8bb83d" stroke="#6e9a2f" stroke-width="0.8"/><path d="M0,-6.8999999999999995 L0,9.200000000000001" stroke="#7aa532" stroke-width="0.6"/></g><g transform="translate(43.2,109.2) rotate(20)"><path d="M-7.2,-3.8 L-13,-5.2" stroke="#5b6f45" stroke-width="0.8"/><path d="M-7.2,0 L-13,0" stroke="#5b6f45" stroke-width="0.8"/><path d="M-7.2,3.8 L-13,5.2" stroke="#5b6f45" stroke-width="0.8"/><path d="M7.2,-3.8 L13,-5.2" stroke="#5b6f45" stroke-width="0.8"/><path d="M7.2,0 L13,0" stroke="#5b6f45" stroke-width="0.8"/><path d="M7.2,3.8 L13,5.2" stroke="#5b6f45" stroke-width="0.8"/><path d="M-2,-7.5 L-4,-11.5 M2,-7.5 L4,-11.5" stroke="#5b6f45" stroke-width="0.8"/><ellipse cx="0" cy="0" rx="9" ry="7.5" fill="#8bb83d" stroke="#6e9a2f" stroke-width="0.8"/><path d="M0,-4.5 L0,6.0" stroke="#7aa532" stroke-width="0.6"/></g><g transform="translate(61,118.1) rotate(20)"><path d="M-5.6000000000000005,-3 L-11,-4.5" stroke="#5b6f45" stroke-width="0.8"/><path d="M-5.6000000000000005,0 L-11,0" stroke="#5b6f45" stroke-width="0.8"/><path d="M-5.6000000000000005,3 L-11,4.5" stroke="#5b6f45" stroke-width="0.8"/><path d="M5.6000000000000005,-3 L11,-4.5" stroke="#5b6f45" stroke-width="0.8"/><path d="M5.6000000000000005,0 L11,0" stroke="#5b6f45" stroke-width="0.8"/><path d="M5.6000000000000005,3 L11,4.5" stroke="#5b6f45" stroke-width="0.8"/><path d="M-2,-6 L-4,-10 M2,-6 L4,-10" stroke="#5b6f45" stroke-width="0.8"/><ellipse cx="0" cy="0" rx="7" ry="6" fill="#8bb83d" stroke="#6e9a2f" stroke-width="0.8"/><path d="M0,-3.5999999999999996 L0,4.800000000000001" stroke="#7aa532" stroke-width="0.6"/></g><g transform="translate(48.4,75.7) rotate(20)"><path d="M-4.800000000000001,-3.2 L-10,-4.8" stroke="#5b6f45" stroke-width="0.8"/><path d="M-4.800000000000001,0 L-10,0" stroke="#5b6f45" stroke-width="0.8"/><path d="M-4.800000000000001,3.2 L-10,4.8" stroke="#5b6f45" stroke-width="0.8"/><path d="M4.800000000000001,-3.2 L10,-4.8" stroke="#5b6f45" stroke-width="0.8"/><path d="M4.800000000000001,0 L10,0" stroke="#5b6f45" stroke-width="0.8"/><path d="M4.800000000000001,3.2 L10,4.8" stroke="#5b6f45" stroke-width="0.8"/><path d="M-2,-6.5 L-4,-10.5 M2,-6.5 L4,-10.5" stroke="#5b6f45" stroke-width="0.8"/><ellipse cx="0" cy="0" rx="6" ry="6.5" fill="#5e8a33" stroke="#6e9a2f" stroke-width="0.8"/><path d="M0,-3.9 L0,5.2" stroke="#7aa532" stroke-width="0.6"/></g><g transform="translate(36.5,63.8) rotate(-30)"><path d="M-4.0,-3.2 L-9,-4.8" stroke="#5b6f45" stroke-width="0.8"/><path d="M-4.0,0 L-9,0" stroke="#5b6f45" stroke-width="0.8"/><path d="M-4.0,3.2 L-9,4.8" stroke="#5b6f45" stroke-width="0.8"/><path d="M4.0,-3.2 L9,-4.8" stroke="#5b6f45" stroke-width="0.8"/><path d="M4.0,0 L9,0" stroke="#5b6f45" stroke-width="0.8"/><path d="M4.0,3.2 L9,4.8" stroke="#5b6f45" stroke-width="0.8"/><path d="M-2,-6.5 L-4,-10.5 M2,-6.5 L4,-10.5" stroke="#5b6f45" stroke-width="0.8"/><ellipse cx="0" cy="0" rx="5" ry="6.5" fill="#e8c24a" stroke="#6e9a2f" stroke-width="0.8"/><path d="M0,-3.9 L0,5.2" stroke="#7aa532" stroke-width="0.6"/></g><g transform="translate(81.9,91.3) rotate(0)"><path d="M-2.8000000000000003,-2 L-7.5,-3.5" stroke="#5b6f45" stroke-width="0.8"/><path d="M-2.8000000000000003,0 L-7.5,0" stroke="#5b6f45" stroke-width="0.8"/><path d="M-2.8000000000000003,2 L-7.5,3.5" stroke="#5b6f45" stroke-width="0.8"/><path d="M2.8000000000000003,-2 L7.5,-3.5" stroke="#5b6f45" stroke-width="0.8"/><path d="M2.8000000000000003,0 L7.5,0" stroke="#5b6f45" stroke-width="0.8"/><path d="M2.8000000000000003,2 L7.5,3.5" stroke="#5b6f45" stroke-width="0.8"/><path d="M-2,-4 L-4,-8 M2,-4 L4,-8" stroke="#5b6f45" stroke-width="0.8"/><ellipse cx="0" cy="0" rx="3.5" ry="4" fill="#8fbb4a" stroke="#6e9a2f" stroke-width="0.8"/><path d="M0,-2.4 L0,3.2" stroke="#7aa532" stroke-width="0.6"/></g></g><circle cx="76" cy="75.5" r="70.2" fill="none" stroke="#8d836f" stroke-width="1.5"/></svg>
<svg class="bx" style="left:898px;top:551px" width="152" height="152" viewBox="0 0 152 152"><defs><clipPath id="cps2"><circle cx="76" cy="75.5" r="68.8"/></clipPath></defs><circle cx="76" cy="75.5" r="68.8" fill="#fdfcf8"/><g clip-path="url(#cps2)"><path d="M80.7,24.3 C62,30 40,38 31,56 C25,68 26,88 31.9,99.7 C50,97 68,88 76,72 C81,60 79,40 80.7,24.3Z" fill="#6f9646" stroke="#5b7d3a" stroke-width="0.7"/><path d="M73.3,34.9 L32.9,98.7" stroke="#2f521f" stroke-width="1.8" fill="none" stroke-linecap="round"/><path d="M32.9,98.7 L27.6,114.6" stroke="#2d3f22" stroke-width="2.8" fill="none" stroke-linecap="round"/><path d="M56.3,56.2 L55.2,44.5" stroke="#3f6a2a" stroke-width="1.1" fill="none" stroke-linecap="round"/><path d="M47.8,68.9 L44.6,55.1" stroke="#3f6a2a" stroke-width="1.1" fill="none" stroke-linecap="round"/><path d="M40.4,80.6 L36.1,66.8" stroke="#3f6a2a" stroke-width="1.1" fill="none" stroke-linecap="round"/><path d="M57.4,59.4 L68,57.2" stroke="#3f6a2a" stroke-width="1.1" fill="none" stroke-linecap="round"/><path d="M45.7,77.4 L63.7,74.2" stroke="#3f6a2a" stroke-width="1.1" fill="none" stroke-linecap="round"/><path d="M38.2,89.1 L47.8,88" stroke="#3f6a2a" stroke-width="1.1" fill="none" stroke-linecap="round"/><path d="M92.9,47.5 L117.4,47.5 Q123.7,49.6 122.1,57.6 L104.6,60.2 L98.2,54.9Z" fill="#dedfdb"/><path d="M103.6,71.4 L114.7,71.4 L124.8,93.2 L92.9,93.2Z" fill="#e6e7e3"/><rect x="104" y="57" width="10" height="8" fill="#dedfdb"/><rect x="102.5" y="64.5" width="13.3" height="6.9" rx="1.5" fill="#2f4a25"/><rect x="85.5" y="47" width="7.4" height="6.3" rx="1.5" fill="#2f4a25"/><path d="M91.5,52 L104,59.5 L102.5,62.5 L95.5,58.5 L89,71.5 L86,70 L91,56.5Z" fill="#2f4a25"/><path d="M92.9,94.2 L124.3,94.2 L126.9,122.9 Q126.9,127.7 122.7,127.7 L94,127.7 Q89.7,127.7 89.7,122.9Z" fill="#7a9a41"/><path d="M73,51 L80,51" stroke="#c6df9a" stroke-width="1" stroke-dasharray="1.5 1"/></g><circle cx="76" cy="75.5" r="68.8" fill="none" stroke="#7f7d72" stroke-width="1.5"/></svg>
<svg class="bx" style="left:800px;top:589px" width="76" height="76" viewBox="0 0 76 76"><circle cx="38" cy="38" r="34" fill="#3d5d2a"/><path d="M19,38.5 L57,38.5 M42,25.5 L57,38.5 L42,51.5" stroke="#fafdf5" stroke-width="6.6" fill="none" stroke-linecap="round" stroke-linejoin="round"/></svg>
<svg class="bx" style="left:140px;top:714px" width="152" height="152" viewBox="0 0 152 152"><defs><clipPath id="cpp3"><circle cx="76" cy="75.5" r="70.2"/></clipPath></defs><circle cx="76" cy="75.5" r="70.2" fill="#fdfcf8"/><g clip-path="url(#cpp3)"><path d="M0,88.5 Q9.5,90.7 19,88.2 Q28.5,85.7 38,88.1 Q47.5,91.1 57,88.4 Q66.5,86.7 76,88.5 Q85.5,90.2 95,88.4 Q104.5,86.7 114,88.2 Q123.5,90.9 133,88.8 Q142.5,86.6 152,88.3 L152,152 L0,152Z" fill="#5b3a1f"/><path d="M0,88.5 Q9.5,90.7 19,88.2 Q28.5,85.7 38,88.1 Q47.5,91.1 57,88.4 Q66.5,86.7 76,88.5 Q85.5,90.2 95,88.4 Q104.5,86.7 114,88.2 Q123.5,90.9 133,88.8 Q142.5,86.6 152,88.3" stroke="#472d17" stroke-width="1.2" fill="none"/><path d="M0,136 L152,136 L152,152 L0,152Z" fill="#6b4a2c"/><path d="M30,127 Q38,123 46,125.5 Q54,128 62,124.5 Q70,121.5 78,125 Q86,128 94,124.5 Q102,121.5 110,125 Q116,127 122,126 L118,139 Q76,142 36,139Z" fill="#96c8e2"/><path d="M30,127 Q38,123 46,125.5 Q54,128 62,124.5 Q70,121.5 78,125 Q86,128 94,124.5 Q102,121.5 110,125 Q116,127 122,126" stroke="#eef7fa" stroke-width="1.6" fill="none"/><path d="M44,133 Q54,130 64,133 T84,132 T104,133" stroke="#c3e2ef" stroke-width="0.9" fill="none"/><ellipse cx="37" cy="100" rx="3" ry="3.5999999999999996" fill="#4e321b" stroke="#7d5c3c" stroke-width="0.6"/><ellipse cx="115" cy="106" rx="2.6" ry="3.12" fill="#4e321b" stroke="#7d5c3c" stroke-width="0.6"/><ellipse cx="22" cy="110" rx="2" ry="2.4" fill="#4e321b" stroke="#7d5c3c" stroke-width="0.6"/><path d="M74.3,91 L74.7,123" stroke="#dcc597" stroke-width="1.5" fill="none" stroke-linecap="round" stroke-linejoin="round"/><path d="M73,94.4 C66,99 60,103 51.2,109.5 L43.7,115.4" stroke="#dcc597" stroke-width="1.5" fill="none" stroke-linecap="round" stroke-linejoin="round"/><path d="M61.3,101.1 L51.2,100.3" stroke="#dcc597" stroke-width="1.5" fill="none" stroke-linecap="round" stroke-linejoin="round"/><path d="M56,106 L53,117" stroke="#dcc597" stroke-width="1.5" fill="none" stroke-linecap="round" stroke-linejoin="round"/><path d="M60,103 L60,111 L57,118" stroke="#dcc597" stroke-width="1.5" fill="none" stroke-linecap="round" stroke-linejoin="round"/><path d="M75.5,94.4 C80,98 84,102 85.6,103.6 C88,106 91,107 93.9,107.8 L104.8,108.7" stroke="#dcc597" stroke-width="1.5" fill="none" stroke-linecap="round" stroke-linejoin="round"/><path d="M83.9,101.1 L93.9,96.9" stroke="#dcc597" stroke-width="1.5" fill="none" stroke-linecap="round" stroke-linejoin="round"/><path d="M89,105 L91,115 L98,117" stroke="#dcc597" stroke-width="1.5" fill="none" stroke-linecap="round" stroke-linejoin="round"/><path d="M85.6,104 L88.5,118" stroke="#dcc597" stroke-width="1.5" fill="none" stroke-linecap="round" stroke-linejoin="round"/><path d="M74.3,105.3 L66.3,112.9" stroke="#dcc597" stroke-width="1.5" fill="none" stroke-linecap="round" stroke-linejoin="round"/><path d="M74.3,107.8 L83.9,116.2" stroke="#dcc597" stroke-width="1.5" fill="none" stroke-linecap="round" stroke-linejoin="round"/><path d="M66.3,112.9 L64,118" stroke="#dcc597" stroke-width="1.5" fill="none" stroke-linecap="round" stroke-linejoin="round"/><path d="M48,112 L45,108" stroke="#dcc597" stroke-width="1.5" fill="none" stroke-linecap="round" stroke-linejoin="round"/><path d="M 72.2,44.2 C 67.5,36.5 64.1,32.3 60.7,31.4 C 53.1,32.3 47.1,39.1 44.6,45.9 C 42,51.8 39.5,62 38.6,70.5" stroke="#4d6030" stroke-width="1.3" fill="none"/><path d="M 75.2,44.2 C 79.4,36.5 84.5,32.3 87.9,31.4 C 94.7,33.1 100.7,41.6 103.2,49.3 C 104.9,55.2 105.8,63.7 105.8,70.5" stroke="#4d6030" stroke-width="1.3" fill="none"/><path d="M 71.3,53.5 C 67.5,48.4 63.3,46.7 58.2,46.7" stroke="#4d6030" stroke-width="1.3" fill="none"/><path d="M 76,53.5 C 79.4,48.4 83.7,46.7 87.1,46.7" stroke="#4d6030" stroke-width="1.3" fill="none"/><path d="M 60.7,31.4 C 60.7,26.3 62.4,21.2 66.7,17" stroke="#4d6030" stroke-width="1.3" fill="none"/><path d="M 75.2,33.1 C 77.7,26.3 81.1,21.2 84.5,20.4" stroke="#4d6030" stroke-width="1.3" fill="none"/><path d="M71.3,90.9 L71.9,45 L72.4,22.1 L73.3,45 L75.9,90.9Z" fill="#6f8b45" stroke="#50682f" stroke-width="0.6"/><path d="M66.7,17 C58.5,17.2 49.6,21.6 44.6,28 C52.7,27.8 61.6,23.4 66.7,17Z" fill="#7b9b47" stroke="#58703a" stroke-width="0.5"/><path d="M53.1,32.3 C46.4,31.7 39.6,35.1 36.1,40.8 C42.7,41.3 49.5,37.9 53.1,32.3Z" fill="#7b9b47" stroke="#58703a" stroke-width="0.5"/><path d="M44.6,45 C38.3,44.9 32.6,48.6 30.1,54.4 C36.3,54.5 42.1,50.7 44.6,45Z" fill="#7b9b47" stroke="#58703a" stroke-width="0.5"/><path d="M41.2,55.2 C36.2,55.8 33.1,59.6 33.5,64.6 C38.5,64 41.5,60.2 41.2,55.2Z" fill="#7b9b47" stroke="#58703a" stroke-width="0.5"/><path d="M40.3,56.9 C36.1,60.9 35.1,67.1 37.8,72.2 C41.9,68.2 43,62.1 40.3,56.9Z" fill="#7b9b47" stroke="#58703a" stroke-width="0.5"/><path d="M46.3,45 C43.9,50.8 45.2,57.6 49.7,62 C52,56.2 50.7,49.4 46.3,45Z" fill="#7b9b47" stroke="#58703a" stroke-width="0.5"/><path d="M52.2,36.5 C49.5,42.1 50.6,48.9 54.8,53.5 C57.4,47.9 56.4,41.1 52.2,36.5Z" fill="#7b9b47" stroke="#58703a" stroke-width="0.5"/><path d="M58.2,31.4 C55,35 55.3,39.4 59,42.5 C62.2,38.9 61.9,34.5 58.2,31.4Z" fill="#7b9b47" stroke="#58703a" stroke-width="0.5"/><path d="M84.5,20.4 C86.4,25.8 91.5,29.2 97.3,28.9 C95.4,23.4 90.3,20 84.5,20.4Z" fill="#7b9b47" stroke="#58703a" stroke-width="0.5"/><path d="M93,31.4 C96.8,37.3 103.9,41 110.9,40.8 C107.1,34.9 100,31.1 93,31.4Z" fill="#7b9b47" stroke="#58703a" stroke-width="0.5"/><path d="M104.1,45 C105.2,50.5 109.6,54.2 115.1,54.4 C114.1,48.9 109.6,45.2 104.1,45Z" fill="#7b9b47" stroke="#58703a" stroke-width="0.5"/><path d="M106.6,55.2 C105.4,60 107.8,64.1 112.6,65.4 C113.8,60.6 111.4,56.5 106.6,55.2Z" fill="#7b9b47" stroke="#58703a" stroke-width="0.5"/><path d="M104.9,58.6 C101.5,62.7 101.5,68.1 104.9,72.2 C108.4,68.1 108.4,62.7 104.9,58.6Z" fill="#7b9b47" stroke="#58703a" stroke-width="0.5"/><path d="M98.1,46.7 C94.4,52.2 94.1,59.7 97.3,65.4 C101,60 101.3,52.5 98.1,46.7Z" fill="#7b9b47" stroke="#58703a" stroke-width="0.5"/><path d="M91.3,36.5 C87.9,42.6 87.9,50.8 91.3,56.9 C94.8,50.8 94.8,42.6 91.3,36.5Z" fill="#7b9b47" stroke="#58703a" stroke-width="0.5"/><path d="M87.9,34.8 C84.5,37.4 84.5,40.8 87.9,43.3 C91.4,40.8 91.4,37.4 87.9,34.8Z" fill="#7b9b47" stroke="#58703a" stroke-width="0.5"/></g><circle cx="76" cy="75.5" r="70.2" fill="none" stroke="#8d836f" stroke-width="1.5"/></svg>
<svg class="bx" style="left:898px;top:714px" width="152" height="152" viewBox="0 0 152 152"><defs><clipPath id="cps3"><circle cx="76" cy="75.5" r="68.8"/></clipPath></defs><circle cx="76" cy="75.5" r="68.8" fill="#fdfcf8"/><g clip-path="url(#cps3)"><path d="M0,49 Q6.3,50.4 12.7,49 Q19,47.2 25.3,49 Q31.7,50.4 38,49 Q44.3,47.9 50.7,49 Q57,50.6 63.3,49.1 Q69.7,47.9 76,48.9 Q82.3,50 88.7,49.1 Q95,47.4 101.3,48.8 Q107.7,50.9 114,49.2 Q120.3,47.4 126.7,49.1 Q133,50.1 139.3,48.8 Q145.7,47.5 152,48.8 L152,152 L0,152Z" fill="#4f331b"/><path d="M0,97 Q9.5,98.5 19,97.1 Q28.5,95 38,97.2 Q47.5,98.4 57,96.8 Q66.5,95.6 76,96.8 Q85.5,99.1 95,96.8 Q104.5,95.2 114,96.8 Q123.5,98.6 133,97 Q142.5,94.8 152,97.1 L152,152 L0,152Z" fill="#7a5535"/><ellipse cx="25" cy="72" rx="6" ry="5.1" fill="#7a5a3f" opacity="0.9"/><ellipse cx="122" cy="69" rx="4" ry="3.4" fill="#7a5a3f" opacity="0.9"/><ellipse cx="123" cy="81" rx="5" ry="4.25" fill="#7a5a3f" opacity="0.9"/><ellipse cx="46" cy="67" rx="2.5" ry="2.125" fill="#7a5a3f" opacity="0.9"/><path d="M76.7,55 L76.7,103" stroke="#d9bf8f" stroke-width="1.7" fill="none" stroke-linecap="round"/><path d="M76.7,62 C68,68 60,72 52,78" stroke="#d9bf8f" stroke-width="1.7" fill="none" stroke-linecap="round"/><path d="M52,78 L45,80" stroke="#d9bf8f" stroke-width="1.7" fill="none" stroke-linecap="round"/><path d="M60,72 C56,66 54,66 50,66" stroke="#d9bf8f" stroke-width="1.7" fill="none" stroke-linecap="round"/><path d="M54,76 L48,86" stroke="#d9bf8f" stroke-width="1.7" fill="none" stroke-linecap="round"/><path d="M52,78 C50,82 49,84 47,88" stroke="#d9bf8f" stroke-width="1.7" fill="none" stroke-linecap="round"/><path d="M76.7,62 C84,68 90,70 96,72" stroke="#d9bf8f" stroke-width="1.7" fill="none" stroke-linecap="round"/><path d="M96,72 C102,76 106,82 111.5,85.6" stroke="#d9bf8f" stroke-width="1.7" fill="none" stroke-linecap="round"/><path d="M92,68 L100,66" stroke="#d9bf8f" stroke-width="1.7" fill="none" stroke-linecap="round"/><path d="M100,76 L102,84" stroke="#d9bf8f" stroke-width="1.7" fill="none" stroke-linecap="round"/><path d="M76.7,75 C70,80 68,86 68,92" stroke="#d9bf8f" stroke-width="1.7" fill="none" stroke-linecap="round"/><path d="M76.7,75 C82,80 86,86 90,92" stroke="#d9bf8f" stroke-width="1.7" fill="none" stroke-linecap="round"/><path d="M90,92 L94,95" stroke="#d9bf8f" stroke-width="1.7" fill="none" stroke-linecap="round"/><path d="M72.5,19.5 L76,20.5 L81.5,19.5 L82,56 L72.5,56Z" fill="#6d4b2f"/><path d="M72.5,50 L82,50 L80,56 L74,56Z" fill="#c79a62"/><path d="M48.5,105 L48.5,127 M42.0,121 L48.5,129 L55.0,121" stroke="#e9f4fb" stroke-width="6" fill="none" stroke-linecap="round" stroke-linejoin="round"/><path d="M48.5,105 L48.5,127 M42.0,121 L48.5,129 L55.0,121" stroke="#8fc6ea" stroke-width="3.6" fill="none" stroke-linecap="round" stroke-linejoin="round"/><path d="M76.7,110 L76.7,133.7 M70.2,127.69999999999999 L76.7,135.7 L83.2,127.69999999999999" stroke="#e9f4fb" stroke-width="6" fill="none" stroke-linecap="round" stroke-linejoin="round"/><path d="M76.7,110 L76.7,133.7 M70.2,127.69999999999999 L76.7,135.7 L83.2,127.69999999999999" stroke="#8fc6ea" stroke-width="3.6" fill="none" stroke-linecap="round" stroke-linejoin="round"/><path d="M104,105 L104,127 M97.5,121 L104,129 L110.5,121" stroke="#e9f4fb" stroke-width="6" fill="none" stroke-linecap="round" stroke-linejoin="round"/><path d="M104,105 L104,127 M97.5,121 L104,129 L110.5,121" stroke="#8fc6ea" stroke-width="3.6" fill="none" stroke-linecap="round" stroke-linejoin="round"/></g><circle cx="76" cy="75.5" r="68.8" fill="none" stroke="#7f7d72" stroke-width="1.5"/></svg>
<svg class="bx" style="left:800px;top:749px" width="76" height="76" viewBox="0 0 76 76"><circle cx="38" cy="38" r="34" fill="#3d5d2a"/><path d="M19,38.5 L57,38.5 M42,25.5 L57,38.5 L42,51.5" stroke="#fafdf5" stroke-width="6.6" fill="none" stroke-linecap="round" stroke-linejoin="round"/></svg>
<div class="a pt" style="left:324px;top:242px">YELLOW LEAVES</div>
<div class="a cause" style="left:324px;top:283px">Cause: Overwatering</div>
<div class="a desc" style="left:324px;top:314.5px">Leaves turn yellow and may drop</div>
<div class="a desc" style="left:324px;top:343.2px">due to too much water.</div>
<div class="a pt" style="left:324px;top:408px">SPARSE GROWTH</div>
<div class="a cause" style="left:324px;top:448px">Cause: Low sunlight</div>
<div class="a desc" style="left:324px;top:479.5px">Insufficient light leads to thin,</div>
<div class="a desc" style="left:324px;top:508.2px">leggy growth and fewer leaves.</div>
<div class="a pt" style="left:324px;top:571px">PESTS (APHIDS)</div>
<div class="a cause" style="left:324px;top:609px">Cause: Sap-sucking insects</div>
<div class="a desc" style="left:324px;top:640.5px">Aphids suck sap, causing curled</div>
<div class="a desc" style="left:324px;top:669.2px">leaves and stunted growth.</div>
<div class="a pt" style="left:324px;top:734px">ROOT ROT</div>
<div class="a cause" style="left:324px;top:771px">Cause: Poor drainage</div>
<div class="a desc" style="left:324px;top:801.5px">Waterlogged soil causes roots to rot</div>
<div class="a desc" style="left:324px;top:830.2px">and the plant to decline.</div>
<div class="a st" style="left:1079px;top:243px">IMPROVE DRAINAGE</div>
<div class="dot" style="left:1078.7px;top:291.6px"></div>
<div class="a bul" style="left:1099px;top:283.5px">Water only when the topsoil is dry.</div>
<div class="dot" style="left:1078.7px;top:323.6px"></div>
<div class="a bul" style="left:1099px;top:315.5px">Ensure the soil is well-drained.</div>
<div class="dot" style="left:1078.7px;top:355.6px"></div>
<div class="a bul" style="left:1099px;top:347.5px">Avoid letting the plant sit in water.</div>
<div class="a st" style="left:1079px;top:409px">INCREASE SUNLIGHT</div>
<div class="dot" style="left:1078.7px;top:457.6px"></div>
<div class="a bul" style="left:1099px;top:449.5px">Plant in full sun (6–8 hours daily).</div>
<div class="dot" style="left:1078.7px;top:488.6px"></div>
<div class="a bul" style="left:1099px;top:480.5px">Avoid shaded or crowded areas.</div>
<div class="dot" style="left:1078.7px;top:520.6px"></div>
<div class="a bul" style="left:1099px;top:512.5px">More sun = fuller, denser growth.</div>
<div class="a st" style="left:1079px;top:572px">CONTROL PESTS</div>
<div class="dot" style="left:1078.7px;top:617.6px"></div>
<div class="a bul" style="left:1099px;top:609.5px">Spray with insecticidal soap or neem oil.</div>
<div class="dot" style="left:1078.7px;top:648.6px"></div>
<div class="a bul" style="left:1099px;top:640.5px">Encourage beneficial insects (like ladybugs).</div>
<div class="dot" style="left:1078.7px;top:680.6px"></div>
<div class="a bul" style="left:1099px;top:672.5px">Regularly check new growth.</div>
<div class="a st" style="left:1079px;top:734px">IMPROVE SOIL DRAINAGE</div>
<div class="dot" style="left:1078.7px;top:779.6px"></div>
<div class="a bul" style="left:1099px;top:771.5px">Use well-drained, sandy or loamy soil.</div>
<div class="dot" style="left:1078.7px;top:811.6px"></div>
<div class="a bul" style="left:1099px;top:803.5px">Raise the planting area if needed.</div>
<div class="dot" style="left:1078.7px;top:842.6px"></div>
<div class="a bul" style="left:1099px;top:834.5px">Reduce watering and improve airflow.</div>
<svg class="bx" style="left:229.3px;top:877.4px" width="54" height="54" viewBox="0 0 54 54"><circle cx="27" cy="27" r="25.3" fill="#fbfcf8" stroke="#85857a" stroke-width="1.3"/><path d="M26.6,36 C28.6,27.2 23.9,20.6 15,19.5 C13,28.3 17.7,34.9 26.6,36Z" fill="#66873d"/><path d="M26.6,36 C38.8,33.5 43.5,24.3 38.5,13 C26.3,15.5 21.6,24.7 26.6,36Z" fill="#66873d"/><path d="M26.6,36 L26.2,44" stroke="#6c7468" stroke-width="1.6"/><path d="M22,28 L26,34 L33,20" stroke="#c8dd8c" stroke-width="0.9" fill="none"/></svg>
<svg class="bx" style="left:1404.3px;top:877.5px" width="54" height="54" viewBox="0 0 54 54"><circle cx="27" cy="27" r="25.3" fill="#fbfcf8" stroke="#85857a" stroke-width="1.3"/><path d="M26.6,36 C28.6,27.2 23.9,20.6 15,19.5 C13,28.3 17.7,34.9 26.6,36Z" fill="#66873d"/><path d="M26.6,36 C38.8,33.5 43.5,24.3 38.5,13 C26.3,15.5 21.6,24.7 26.6,36Z" fill="#66873d"/><path d="M26.6,36 L26.2,44" stroke="#6c7468" stroke-width="1.6"/><path d="M22,28 L26,34 L33,20" stroke="#c8dd8c" stroke-width="0.9" fill="none"/></svg>
<div class="a" style="left:315px;top:894px;font-size:23px;letter-spacing:0.16px;color:#2a3424">Weeping wattle is tough and resilient — the right care keeps it healthy, lush and beautiful year-round.</div>
</body></html>
